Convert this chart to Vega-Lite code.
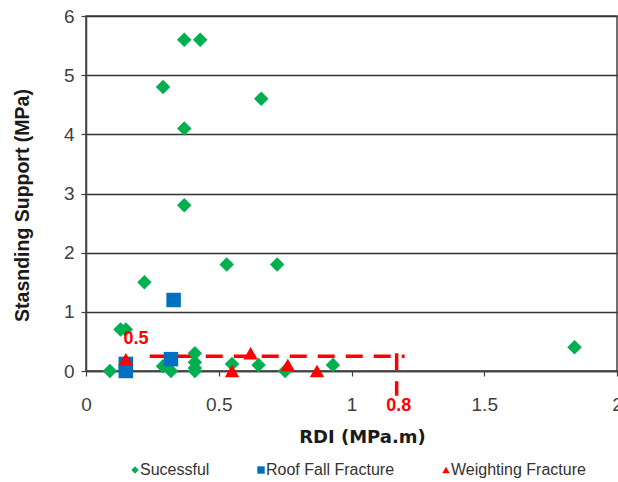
{
  "$schema": "https://vega.github.io/schema/vega-lite/v6.json",
  "width": 531,
  "height": 355,
  "autosize": "none",
  "padding": {"left": 86, "top": 16, "right": 1, "bottom": 111},
  "config": {
    "view": {"stroke": "#404040", "strokeWidth": 1.5},
    "font": "Liberation Sans"
  },
  "encoding": {
    "x": {
      "field": "x", "type": "quantitative",
      "scale": {"domain": [0, 2], "nice": false},
      "axis": {
        "title": "RDI (MPa.m)", "values": [0, 0.5, 1, 1.5, 2], "grid": false, "format": "~g",
        "domainColor": "#404040", "domainWidth": 1.5, "tickColor": "#404040", "tickSize": 5, "tickWidth": 1.2,
        "labelFont": "Liberation Sans", "labelFontSize": 19, "labelColor": "#404040", "labelPadding": 19, "labelFlush": false,
        "titleFont": "DejaVu Sans", "titleFontSize": 18, "titleFontWeight": "bold", "titleColor": "#1a1a1a",
        "titleX": 276, "titleY": 66, "titleBaseline": "middle"
      }
    },
    "y": {
      "field": "y", "type": "quantitative",
      "scale": {"domain": [0, 6], "nice": false},
      "axis": {
        "title": "Stasnding Support (MPa)", "values": [0, 1, 2, 3, 4, 5, 6],
        "grid": true, "gridColor": "#333333", "gridWidth": 1.5,
        "domainColor": "#404040", "domainWidth": 1.5, "tickColor": "#404040", "tickSize": 5, "tickWidth": 1.2,
        "labelFont": "Liberation Sans", "labelFontSize": 19, "labelColor": "#404040", "labelPadding": 7,
        "titleFont": "Liberation Sans", "titleFontSize": 19.5, "titleFontWeight": "bold", "titleColor": "#1a1a1a",
        "titleX": -64, "titleY": 189, "titleBaseline": "middle"
      }
    }
  },
  "layer": [
    {
      "data": {"values": [
        {"x": 0.24, "x2": 1.2, "y": 0.25, "y2": 0.25},
        {"x": 1.17, "x2": 1.17, "y": 0.3, "y2": -0.42}
      ]},
      "mark": {"type": "rule", "color": "#FF0000", "strokeWidth": 3.5, "strokeDash": [17, 11]},
      "encoding": {"x2": {"field": "x2"}, "y2": {"field": "y2"}}
    },
    {
      "data": {"values": [
        {"type": "Sucessful", "x": 0.37, "y": 5.6},
        {"type": "Sucessful", "x": 0.43, "y": 5.6},
        {"type": "Sucessful", "x": 0.29, "y": 4.8},
        {"type": "Sucessful", "x": 0.66, "y": 4.6},
        {"type": "Sucessful", "x": 0.37, "y": 4.1},
        {"type": "Sucessful", "x": 0.37, "y": 2.8},
        {"type": "Sucessful", "x": 0.53, "y": 1.8},
        {"type": "Sucessful", "x": 0.72, "y": 1.8},
        {"type": "Sucessful", "x": 0.22, "y": 1.5},
        {"type": "Sucessful", "x": 0.13, "y": 0.7},
        {"type": "Sucessful", "x": 0.15, "y": 0.7},
        {"type": "Sucessful", "x": 0.09, "y": 0.0},
        {"type": "Sucessful", "x": 0.29, "y": 0.08},
        {"type": "Sucessful", "x": 0.32, "y": 0.0},
        {"type": "Sucessful", "x": 0.41, "y": 0.3},
        {"type": "Sucessful", "x": 0.41, "y": 0.15},
        {"type": "Sucessful", "x": 0.41, "y": 0.05},
        {"type": "Sucessful", "x": 0.41, "y": 0.0},
        {"type": "Sucessful", "x": 0.55, "y": 0.12},
        {"type": "Sucessful", "x": 0.65, "y": 0.1},
        {"type": "Sucessful", "x": 0.75, "y": 0.0},
        {"type": "Sucessful", "x": 0.93, "y": 0.1},
        {"type": "Sucessful", "x": 1.84, "y": 0.4},
        {"type": "Roof Fall Fracture", "x": 0.33, "y": 1.2},
        {"type": "Roof Fall Fracture", "x": 0.32, "y": 0.2},
        {"type": "Roof Fall Fracture", "x": 0.15, "y": 0.12},
        {"type": "Roof Fall Fracture", "x": 0.15, "y": 0.0},
        {"type": "Weighting Fracture", "x": 0.15, "y": 0.2},
        {"type": "Weighting Fracture", "x": 0.55, "y": 0.0},
        {"type": "Weighting Fracture", "x": 0.62, "y": 0.3},
        {"type": "Weighting Fracture", "x": 0.76, "y": 0.1},
        {"type": "Weighting Fracture", "x": 0.87, "y": 0.0}
      ]},
      "mark": {"type": "point", "filled": true, "opacity": 1, "size": 210},
      "encoding": {
        "color": {
          "field": "type", "type": "nominal",
          "scale": {"domain": ["Sucessful", "Roof Fall Fracture", "Weighting Fracture"], "range": ["#00B050", "#0070C0", "#FF0000"]},
          "legend": {
            "title": null, "orient": "none", "direction": "horizontal", "legendX": 41, "legendY": 446,
            "padding": 0, "symbolSize": 55, "symbolOpacity": 1, "labelFont": "Liberation Sans", "labelFontSize": 16,
            "labelColor": "#333333", "labelOffset": -3, "columnPadding": 43
          }
        },
        "shape": {
          "field": "type", "type": "nominal",
          "scale": {"domain": ["Sucessful", "Roof Fall Fracture", "Weighting Fracture"], "range": ["diamond", "square", "triangle-up"]}
        }
      }
    },
    {
      "data": {"values": [
        {"x": 0.188, "y": 0.54, "label": "0.5"},
        {"x": 1.178, "y": -0.59, "label": "0.8"}
      ]},
      "mark": {"type": "text", "color": "#FF0000", "font": "Liberation Sans", "fontSize": 18, "fontWeight": "bold", "baseline": "middle", "align": "center"},
      "encoding": {"text": {"field": "label"}}
    }
  ]
}
